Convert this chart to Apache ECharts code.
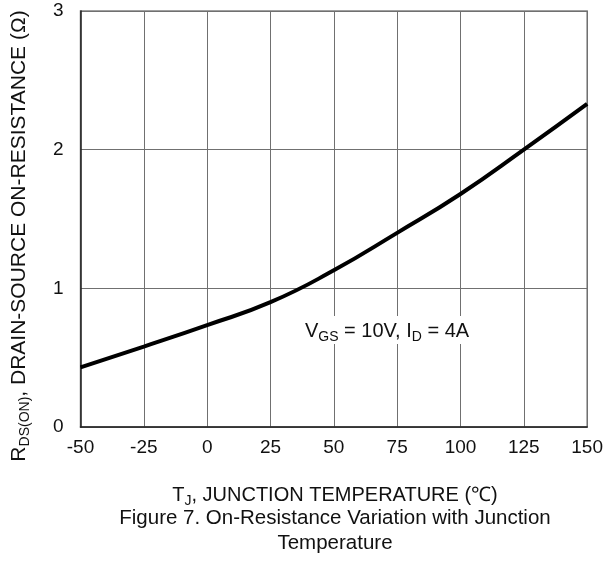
<!DOCTYPE html>
<html><head><meta charset="utf-8">
<script src="https://cdn.jsdelivr.net/npm/echarts@6/dist/echarts.min.js"></script>
<style>html,body{margin:0;padding:0;background:#fff}#c{width:606px;height:567px}</style>
</head><body><div id="c"></div>
<script>
const temps = [-50, -25, 0, 25, 50, 75, 100, 125, 150];
const rdsOn = [0.43, 0.58, 0.735, 0.90, 1.13, 1.40, 1.68, 2.0, 2.33];
const xTicks = {min: -50, max: 150, interval: 25};
const yTicks = {min: 0, max: 3, interval: 1};
const FONT = 'Arial, "Liberation Sans", sans-serif';

const chart = echarts.init(document.getElementById('c'));
chart.setOption({
  animation: false,
  grid: {left: 80.5, right: 17.5, top: 11, bottom: 140, show: true, borderColor: '#808080', borderWidth: 1.5},
  xAxis: {
    type: 'value', min: xTicks.min, max: xTicks.max, interval: xTicks.interval,
    axisLine: {show: true, onZero: false, lineStyle: {color: '#222', width: 1.5}},
    axisTick: {show: false},
    splitLine: {show: true, lineStyle: {color: '#707070', width: 1}},
    axisLabel: {color: '#111', fontFamily: FONT, fontSize: 19, margin: 11}
  },
  yAxis: {
    type: 'value', min: yTicks.min, max: yTicks.max, interval: yTicks.interval,
    axisLine: {show: true, onZero: false, lineStyle: {color: '#222', width: 1.5}},
    axisTick: {show: false},
    splitLine: {show: true, lineStyle: {color: '#707070', width: 1}},
    axisLabel: {color: '#111', fontFamily: FONT, fontSize: 19, margin: 17}
  },
  series: [{
    type: 'line', data: temps.map((t, i) => [t, rdsOn[i]]),
    smooth: true, showSymbol: false,
    lineStyle: {color: '#000', width: 4}
  }],
  graphic: [
    {type: 'text', left: 303, top: 316, z: 100, style: {
      text: 'V{s|GS} = 10V, I{s|D} = 4A', fontFamily: FONT, fontSize: 20, fill: '#111',
      backgroundColor: '#fff', padding: [2, 2, 0, 2],
      rich: {s: {fontSize: 14, fontFamily: FONT, fill: '#111', padding: [12, 0, 0, 0]}}
    }},
    {type: 'text', x: 19, y: 236, rotation: Math.PI / 2, style: {
      text: 'R{s|DS(ON)}, DRAIN-SOURCE ON-RESISTANCE (Ω)', fontFamily: FONT, fontSize: 21, fill: '#111',
      align: 'center', verticalAlign: 'middle',
      rich: {s: {fontSize: 14, fontFamily: FONT, fill: '#111', padding: [12, 0, 0, 0]}}
    }},
    {type: 'text', x: 335, y: 495, style: {
      text: 'T{s|J}, JUNCTION TEMPERATURE (℃)', fontFamily: FONT, fontSize: 20, fill: '#111',
      align: 'center', verticalAlign: 'middle',
      rich: {s: {fontSize: 14, fontFamily: FONT, fill: '#111', padding: [12, 0, 0, 0]}}
    }},
    {type: 'text', x: 335, y: 518, style: {
      text: 'Figure 7. On-Resistance Variation with Junction', fontFamily: FONT, fontSize: 20.5, fill: '#111',
      align: 'center', verticalAlign: 'middle'
    }},
    {type: 'text', x: 335, y: 543, style: {
      text: 'Temperature', fontFamily: FONT, fontSize: 20.5, fill: '#111',
      align: 'center', verticalAlign: 'middle'
    }}
  ]
});
</script></body></html>
